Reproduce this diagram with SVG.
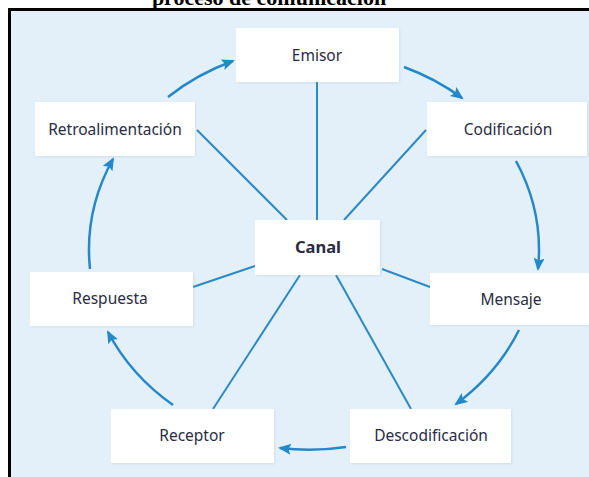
<svg xmlns="http://www.w3.org/2000/svg" width="589" height="477" viewBox="0 0 589 477">
  <defs>
    <marker id="head" markerUnits="userSpaceOnUse" markerWidth="15" markerHeight="12" refX="11" refY="5.5" orient="auto">
      <path d="M0,0 L13,5.5 L0,11 L2.5,5.5 z" fill="#2389c9"/>
    </marker>
    <filter id="soft" x="-10%" y="-10%" width="120%" height="130%">
      <feDropShadow dx="1" dy="1" stdDeviation="1" flood-color="#9fb6c8" flood-opacity="0.25"/>
    </filter>
  </defs>
  <style>
    .box { fill: #ffffff; filter: url(#soft); }
    .lbl { font-family: "Noto Sans", "DejaVu Sans", sans-serif; font-size: 15.5px; fill: #2a2c45; text-anchor: middle; }
    .main { font-weight: bold; font-size: 16.5px; }
    .spoke { stroke: #2b8ac6; stroke-width: 2; fill: none; }
    .cycle { stroke: #2389c9; stroke-width: 2.5; fill: none; marker-end: url(#head); }
    .title { font-family: "Liberation Serif", "Times New Roman", serif; font-weight: bold; font-size: 22px; fill: #000; text-anchor: middle; }
  </style>

  <!-- caption, partly cut off by the top edge -->
  <text class="title" x="269" y="5">proceso de comunicación</text>

  <!-- framed panel -->
  <rect x="11" y="11" width="578" height="466" fill="#e3eff9"/>
  <path d="M9.5 477 V9.5 H589" fill="none" stroke="#000" stroke-width="3"/>

  <!-- spokes from the channel and the cycle arrows -->
  <g id="connectors">
    <line class="spoke" x1="317" y1="82" x2="317" y2="220"/>
    <line class="spoke" x1="426" y1="130" x2="344" y2="220"/>
    <line class="spoke" x1="197" y1="130" x2="287" y2="220"/>
    <line class="spoke" x1="382" y1="269" x2="430" y2="287"/>
    <line class="spoke" x1="193" y1="287" x2="255" y2="266"/>
    <line class="spoke" x1="213" y1="409" x2="300" y2="275"/>
    <line class="spoke" x1="336" y1="275" x2="411" y2="409"/>

    <path class="cycle" d="M404 67 A225 203 0 0 1 462 98"/>
    <path class="cycle" d="M516 161 A225 203 0 0 1 538 269"/>
    <path class="cycle" d="M519 330 A225 203 0 0 1 456 404"/>
    <path class="cycle" d="M346 447 A225 203 0 0 1 280 448"/>
    <path class="cycle" d="M173 405 A225 203 0 0 1 108 332"/>
    <path class="cycle" d="M90 269 A225 203 0 0 1 113 159"/>
    <path class="cycle" d="M168 97 A225 203 0 0 1 233 61"/>
  </g>

  <g id="emisor">
    <rect class="box" x="236" y="28" width="163" height="54"/>
    <text class="lbl" x="317" y="60.5">Emisor</text>
  </g>
  <g id="codificacion">
    <rect class="box" x="427" y="102" width="160" height="54"/>
    <text class="lbl" x="508" y="134.5">Codificación</text>
  </g>
  <g id="retroalimentacion">
    <rect class="box" x="35" y="102" width="160" height="54"/>
    <text class="lbl" x="115" y="134.5">Retroalimentación</text>
  </g>
  <g id="canal">
    <rect class="box" x="255" y="220" width="125" height="55"/>
    <text class="lbl main" x="318" y="253">Canal</text>
  </g>
  <g id="mensaje">
    <rect class="box" x="430" y="273" width="159" height="52"/>
    <text class="lbl" x="511" y="304.5">Mensaje</text>
  </g>
  <g id="respuesta">
    <rect class="box" x="30" y="272" width="163" height="54"/>
    <text class="lbl" x="110" y="303.5">Respuesta</text>
  </g>
  <g id="receptor">
    <rect class="box" x="111" y="409" width="163" height="54"/>
    <text class="lbl" x="192" y="440.5">Receptor</text>
  </g>
  <g id="descodificacion">
    <rect class="box" x="350" y="409" width="161" height="54"/>
    <text class="lbl" x="431" y="440.5">Descodificación</text>
  </g>
</svg>
